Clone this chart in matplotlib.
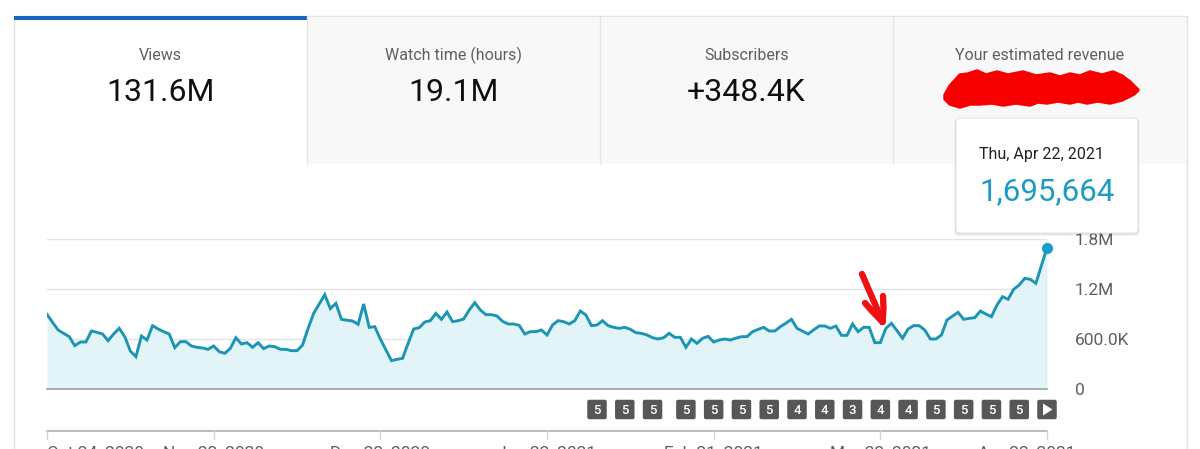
import numpy as np
import matplotlib
matplotlib.use("Agg")
import matplotlib.pyplot as plt
from matplotlib.patches import Rectangle, FancyBboxPatch, Polygon

plt.rcParams['font.family'] = ['Roboto', 'DejaVu Sans']

# ---------------- data ----------------
tab_titles = ["Views", "Watch time (hours)", "Subscribers", "Your estimated revenue"]
tab_values = ["131.6M", "19.1M", "+348.4K", ""]

# daily views (thousands), Oct 24 2020 .. Apr 22 2021
views_k = [
    896, 800, 708, 668, 628, 520, 564, 564, 696, 680,
    660, 580, 660, 728, 628, 456, 388, 636, 588, 760,
    720, 688, 660, 496, 568, 568, 516, 500, 492, 476,
    516, 448, 428, 488, 616, 540, 556, 500, 556, 484,
    516, 508, 476, 476, 460, 460, 528, 728, 908, 1020,
    1132, 964, 1028, 836, 825, 816, 776, 1020, 740, 748,
    600, 470, 340, 356, 368, 548, 720, 736, 804, 820,
    908, 836, 924, 808, 820, 840, 948, 1036, 948, 892,
    892, 876, 812, 780, 780, 764, 660, 688, 688, 708,
    648, 768, 820, 808, 780, 820, 936, 888, 760, 768,
    820, 760, 740, 728, 740, 716, 676, 668, 648, 616,
    600, 616, 668, 620, 620, 500, 600, 548, 608, 632,
    564, 588, 600, 588, 610, 628, 628, 688, 715, 740,
    696, 696, 748, 790, 836, 728, 695, 660, 710, 756,
    756, 728, 756, 644, 644, 780, 688, 740, 740, 556,
    556, 728, 788, 700, 608, 720, 760, 760, 708, 600,
    600, 648, 828, 875, 920, 836, 848, 856, 936, 900,
    868, 1008, 1108, 1076, 1196, 1248, 1328, 1316, 1268, 1480,
    1695.664,
]
tick_days = [0, 30, 60, 90, 120, 150, 180]
tick_labels = ["Oct 24, 2020", "Nov 23, 2020", "Dec 23, 2020", "Jan 22, 2021",
               "Feb 21, 2021", "Mar 23, 2021", "Apr 22, 2021"]
y_ticks = [0, 600000, 1200000, 1800000]
y_tick_labels = ["0", "600.0K", "1.2M", "1.8M"]
badge_days = [99, 104, 109, 115, 120, 125, 130, 135, 140, 145, 150, 155, 160, 165, 170, 175]
badge_values = [5, 5, 5, 5, 5, 5, 5, 4, 4, 3, 4, 4, 5, 5, 5, 5]
play_day = 180
tooltip_date = "Thu, Apr 22, 2021"
tooltip_value = 1695664

views = np.array(views_k) * 1000.0
days = np.arange(len(views))

# ---------------- figure ----------------
W, H = 1200, 449
fig = plt.figure(figsize=(W / 100, H / 100), dpi=100)
fig.patch.set_facecolor('white')

bg = fig.add_axes([0, 0, 1, 1], zorder=0)
bg.set_xlim(0, W); bg.set_ylim(H, 0); bg.axis('off')

ov = fig.add_axes([0, 0, 1, 1], zorder=3)
ov.set_xlim(0, W); ov.set_ylim(H, 0); ov.axis('off'); ov.patch.set_alpha(0)

# card
bg.add_patch(Rectangle((14, 16), 1173, 520, facecolor='white', edgecolor='#e2e2e2', lw=1.0))
# grey tabs
bg.add_patch(Rectangle((307, 16.5), 879.5, 147.5, facecolor='#f8f8f8', edgecolor='none'))
for xs in (307, 600, 893):
    bg.plot([xs, xs], [17, 164], color='#e6e6e6', lw=1.0)
# selected-tab blue bar
bg.add_patch(Rectangle((14, 15.5), 293, 4.5, facecolor='#1a62c0', edgecolor='none'))

tab_w = 293
for i, (t, v) in enumerate(zip(tab_titles, tab_values)):
    cx = 14 + tab_w * (i + 0.5)
    bg.text(cx, 60, t, ha='center', va='baseline', fontsize=11.5, color='#5f5f5f')
    if v:
        bg.text(cx, 101, v, ha='center', va='baseline', fontsize=23, color='#0f0f0f')

# red scribble over revenue value
top_pts = [(945, 95), (950, 86), (960, 75), (968, 74), (977, 71), (986, 75), (997, 72),
           (1008, 75), (1023, 72), (1036, 76), (1050, 74), (1060, 77), (1070, 74),
           (1080, 76), (1090, 72), (1102, 75), (1113, 72), (1122, 76), (1130, 82), (1138, 90)]
bot_pts = [(1134, 94), (1122, 100), (1110, 103), (1098, 101), (1087, 103), (1078, 101),
           (1070, 103), (1058, 101), (1047, 103), (1038, 102), (1030, 105), (1016, 103),
           (1003, 105), (992, 103), (980, 104), (970, 104), (960, 107), (950, 104), (945, 99)]
ov.add_patch(Polygon(top_pts + bot_pts, closed=True,
                     facecolor='#f80000', edgecolor='#f80000', lw=2.5,
                     joinstyle='round', zorder=5))

# ---------------- chart ----------------
x0, x1, y0, y1 = 47, 1047, 239, 389
ax = fig.add_axes([x0 / W, (H - y1) / H, (x1 - x0) / W, (y1 - y0) / H], zorder=1)
ax.patch.set_alpha(0)
ax.set_xlim(0, 180)
ax.set_ylim(0, 1800000)
ax.fill_between(days, views, 0, color='#e3f4f9', lw=0, zorder=1)
ax.plot(days, views, color='#1c95b4', lw=2.1, solid_joinstyle='miter', zorder=3)
ax.axvline(days[-1], ymin=0, ymax=1, color='#cfcfcf', lw=1.0, zorder=2)
ax.plot([days[-1]], [views[-1]], 'o', ms=7, color='#1a9dc8', mec='#1a9dc8',
        clip_on=False, zorder=5)
for s in ('top', 'left', 'right'):
    ax.spines[s].set_visible(False)
ax.spines['bottom'].set_color('#a0a0a0')
ax.spines['bottom'].set_linewidth(1.2)
ax.set_xticks([])
ax.set_yticks(y_ticks)
ax.set_yticklabels(y_tick_labels)
ax.yaxis.tick_right()
ax.tick_params(axis='y', length=0, pad=20, labelsize=12.5, labelcolor='#5f5f5f')
ax.grid(axis='y', color='#e2e2e2', lw=1.0, zorder=0)
ax.set_axisbelow(True)

fig.canvas.draw()

def xpix(d):
    # convert a day value into bg pixel coordinates
    disp = ax.transData.transform((d, 0))
    return bg.transData.inverted().transform(disp)[0]

# badges
by = 409.5
bs = 19.5
for d, v in zip(badge_days, badge_values):
    px = xpix(d)
    bg.add_patch(FancyBboxPatch((px - bs / 2, by - bs / 2), bs, bs,
                                boxstyle='round,pad=0,rounding_size=2',
                                facecolor='#575757', edgecolor='none'))
    bg.text(px, by + 0.5, str(v), ha='center', va='center', fontsize=9.5,
            color='white', fontweight='medium')
px = xpix(play_day)
bg.add_patch(FancyBboxPatch((px - bs / 2, by - bs / 2), bs, bs,
                            boxstyle='round,pad=0,rounding_size=2',
                            facecolor='#575757', edgecolor='none'))
bg.add_patch(Polygon([(px - 4, by - 6), (px - 4, by + 6), (px + 5.5, by)],
                     closed=True, facecolor='white', edgecolor='none'))

# date axis below badges
ay = 430.5
bg.plot([xpix(0), xpix(180)], [ay, ay], color='#bdbdbd', lw=1.5)
lab_y = 458
for d, lab in zip(tick_days, tick_labels):
    px = xpix(d)
    bg.plot([px, px], [ay, ay + 8], color='#d6d6d6', lw=1.0)
    if d == tick_days[0]:
        bg.text(px, lab_y, lab, ha='left', va='baseline', fontsize=12.5, color='#5f5f5f')
    elif d == tick_days[-1]:
        bg.text(px + 29, lab_y, lab, ha='right', va='baseline', fontsize=12.5, color='#5f5f5f')
    else:
        bg.text(px, lab_y, lab, ha='center', va='baseline', fontsize=12.5, color='#5f5f5f')

# ---------------- tooltip ----------------
for k, a in ((3, 0.05), (2, 0.07), (1, 0.09)):
    ov.add_patch(FancyBboxPatch((956 - k * 0.5, 118 + k * 0.3), 182 + k, 114 + k,
                                boxstyle='round,pad=0,rounding_size=4',
                                facecolor='black', edgecolor='none', alpha=a, zorder=6))
ov.add_patch(FancyBboxPatch((956, 118), 182, 115, boxstyle='round,pad=0,rounding_size=4',
                            facecolor='white', edgecolor='#e6e6e6', lw=0.8, zorder=7))
ov.text(979, 159, tooltip_date, ha='left', va='baseline', fontsize=11.5, color='#212121', zorder=8)
ov.text(979, 200, f"{tooltip_value:,}", ha='left', va='baseline', fontsize=22.5,
        color='#1d9bc4', zorder=8)

# ---------------- red arrow ----------------
arrow_col = '#ef1111'
ov.plot([862, 868, 875, 882.5], [274, 288, 304, 322], color=arrow_col, lw=4.6,
        solid_capstyle='round', solid_joinstyle='round', zorder=9)
ov.plot([865, 872, 882.5], [303, 311, 322], color=arrow_col, lw=4.6, solid_capstyle='round',
        solid_joinstyle='round', zorder=9)
ov.plot([883, 883.5, 882.5], [296, 308, 322], color=arrow_col, lw=4.6, solid_capstyle='round',
        solid_joinstyle='round', zorder=9)

fig.savefig('out.png', dpi=100)
